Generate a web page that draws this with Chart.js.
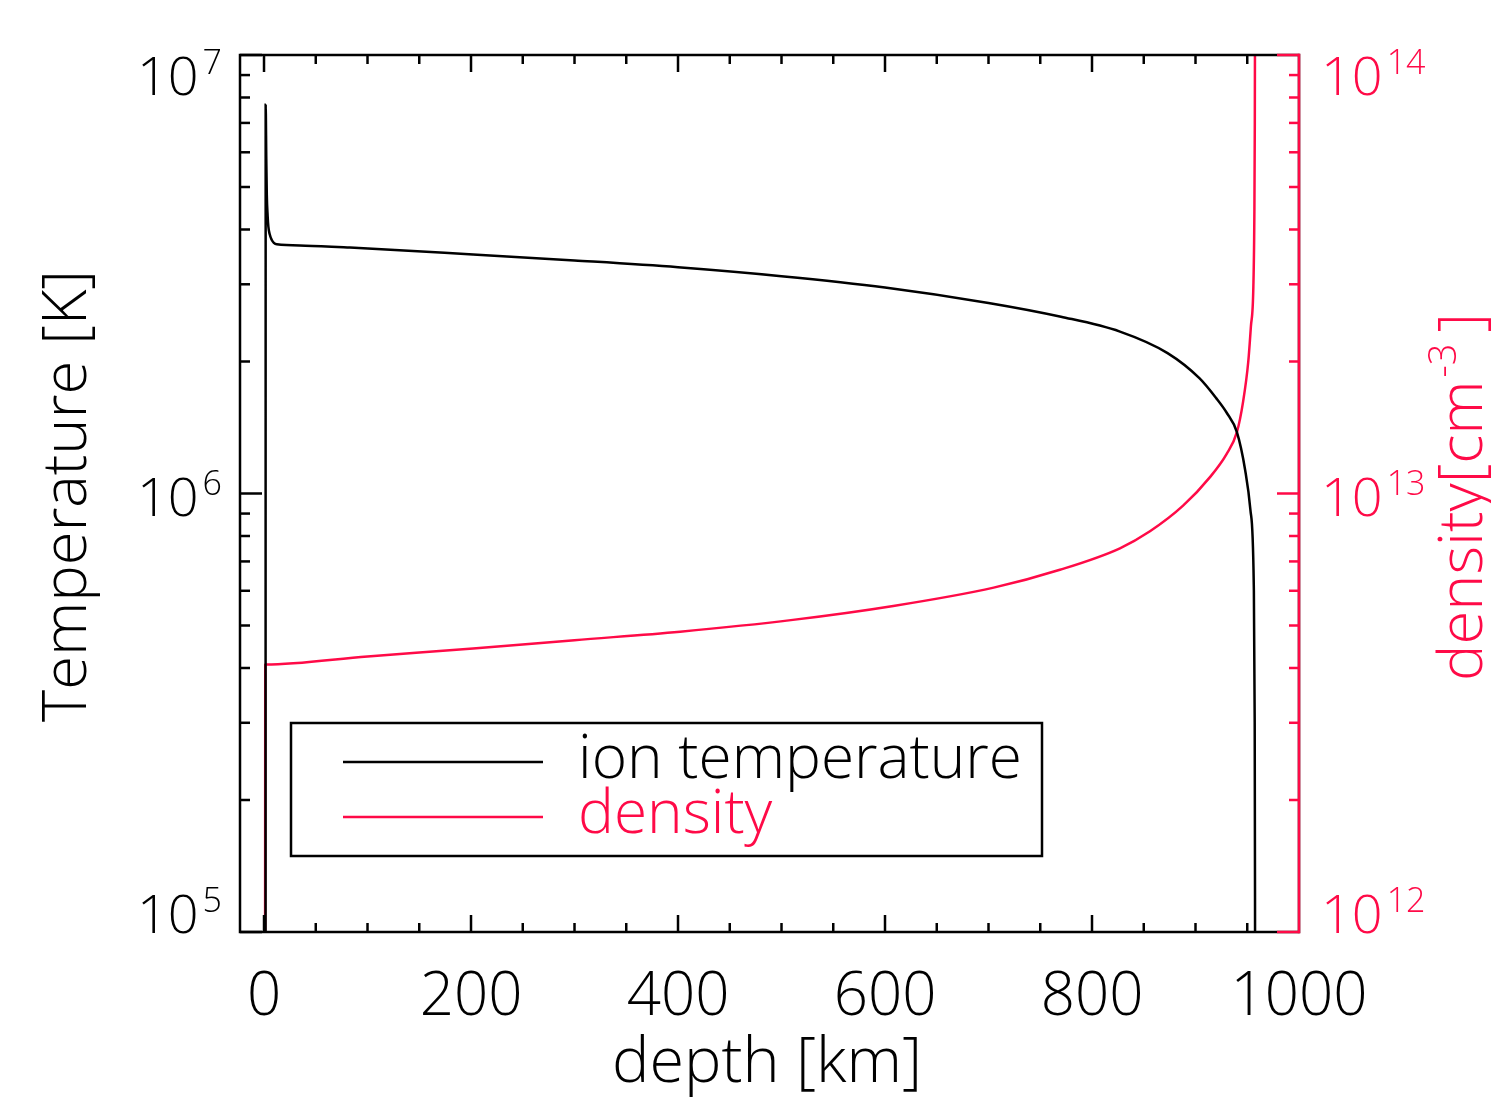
<!DOCTYPE html>
<html>
<head>
<meta charset="utf-8">
<script src="https://cdn.jsdelivr.net/npm/chart.js@4.4.1/dist/chart.umd.min.js"></script>
<style>
html,body{margin:0;padding:0;background:#fff;}
#wrap{width:1491px;height:1097px;}
</style>
</head>
<body>
<div id="wrap"><canvas id="profileChart" width="1491" height="1097"></canvas></div>
<script>
/* =========================
   DATA
========================= */

const tempDepth = [
1.5, 1.6, 2.2, 2.7, 3.5, 4.2, 5.5, 7.4, 9.5, 12.3,
40, 83, 202, 300, 400, 500, 600, 700, 770, 827,
873, 904, 920, 930, 940, 948, 953, 956.3, 957.2, 957.5,
957.7
];

const temperature = [
5e4, 7.7e6, 5.8e6, 4.8e6, 4.3e6, 4.06e6, 3.9e6, 3.79e6, 3.73e6, 3.70e6,
3.675e6, 3.64e6, 3.51e6, 3.40e6, 3.28e6, 3.13e6, 2.95e6, 2.72e6, 2.53e6, 2.34e6,
2.09e6, 1.83e6, 1.65e6, 1.53e6, 1.38e6, 1.13e6, 9.2e5, 6.2e5, 3.0e5, 1.2e5,
5e4
];

const densDepth = [
1.0, 1.2, 1.3, 100, 202, 300, 402, 511, 608, 705,
769, 827, 856, 888, 914, 930, 940, 946, 951, 953.5,
955.9, 956.9, 957.3, 957.6
];

const density = [
5e11, 4.07e12, 4.072e12, 4.25e12, 4.43e12, 4.63e12, 4.84e12, 5.15e12, 5.54e12, 6.1e12,
6.7e12, 7.5e12, 8.2e12, 9.38e12, 1.09e13, 1.23e13, 1.38e13, 1.62e13, 2.0e13, 2.4e13,
2.96e13, 4.4e13, 7.0e13, 1.6e14
];

const depthTicks = [0, 200, 400, 600, 800, 1000];
const tempExponents = [5, 6, 7];
const densExponents = [12, 13, 14];

const seriesNames = ["ion temperature", "density"];

/* =========================
   STYLE
========================= */

const RED = "#ff0a47";
const FONT = '"Open Sans", "DejaVu Sans", sans-serif';

function fitSize(ctx, text, width){
ctx.font = "300 100px " + FONT;
return 100 * width / ctx.measureText(text).width;
}

function line(ctx, x1, y1, x2, y2){
ctx.beginPath();
ctx.moveTo(x1, y1);
ctx.lineTo(x2, y2);
ctx.stroke();
}

// "10" with a raised exponent, baseline y
function power(ctx, exp, x, y, align){
ctx.textAlign = "left";
ctx.textBaseline = "alphabetic";
ctx.font = "300 54px " + FONT;
const bw = ctx.measureText("10").width;
ctx.font = "300 34px " + FONT;
const ew = ctx.measureText(String(exp)).width;
const x0 = align === "right" ? x - bw - 4 - ew : x;
ctx.font = "300 54px " + FONT;
ctx.fillText("10", x0, y);
ctx.font = "300 34px " + FONT;
ctx.fillText(String(exp), x0 + bw + 4, y - 21);
}

/* =========================
   AXES, FRAME, LEGEND
========================= */

const idlAxes = {
id: "idlAxes",
afterDraw(chart){
const ctx = chart.ctx;
const ca = chart.chartArea;
const xs = chart.scales.x;
const ys = chart.scales.y;
const y2 = chart.scales.y2;

ctx.save();
ctx.lineWidth = 2.5;
ctx.lineCap = "butt";

// frame
ctx.strokeStyle = "#000";
ctx.strokeRect(ca.left, ca.top, ca.right - ca.left, ca.bottom - ca.top);

// x ticks, bottom and top
for(let v = 0; v < 1000; v += 50){
const px = xs.getPixelForValue(v);
const len = v % 200 === 0 ? 17 : 9;
line(ctx, px, ca.bottom, px, ca.bottom - len);
line(ctx, px, ca.top, px, ca.top + len);
}

// left log ticks
for(let d = tempExponents[0]; d <= tempExponents[tempExponents.length-1]; d++){
for(let m = 1; m <= 9; m++){
const v = m * Math.pow(10, d);
if(v > ys.max) break;
const py = ys.getPixelForValue(v);
line(ctx, ca.left, py, ca.left + (m === 1 ? 22 : 10), py);
}
}

// right axis in red
ctx.strokeStyle = RED;
line(ctx, ca.right, ca.top - 1.25, ca.right, ca.bottom + 1.25);
for(let d = densExponents[0]; d <= densExponents[densExponents.length-1]; d++){
for(let m = 1; m <= 9; m++){
const v = m * Math.pow(10, d);
if(v > y2.max) break;
const py = y2.getPixelForValue(v);
line(ctx, ca.right, py, ca.right - (m === 1 ? 22 : 10), py);
}
}

// tick labels
const base = py => Math.min(Math.max(py + 22, 95), 933);

ctx.fillStyle = "#000";
tempExponents.forEach(e => {
power(ctx, e, 222, base(ys.getPixelForValue(Math.pow(10, e))), "right");
});

ctx.fillStyle = RED;
densExponents.forEach(e => {
power(ctx, e, 1321, base(y2.getPixelForValue(Math.pow(10, e))), "left");
});

ctx.fillStyle = "#000";
ctx.textAlign = "center";
ctx.textBaseline = "alphabetic";
ctx.font = "300 60px " + FONT;
depthTicks.forEach(v => {
ctx.fillText(String(v), xs.getPixelForValue(v), 1015);
});

// axis titles
ctx.font = "300 " + fitSize(ctx, "depth [km]", 310) + "px " + FONT;
ctx.textAlign = "center";
ctx.fillText("depth [km]", 767, 1082);

ctx.save();
ctx.translate(86, 496);
ctx.rotate(-Math.PI / 2);
ctx.font = "300 " + fitSize(ctx, "Temperature [K]", 452) + "px " + FONT;
ctx.fillText("Temperature [K]", 0, 0);
ctx.restore();

ctx.save();
ctx.translate(1482, 497);
ctx.rotate(-Math.PI / 2);
ctx.fillStyle = RED;
ctx.textAlign = "left";
const tSize = fitSize(ctx, "density[cm   ]", 368);
ctx.font = "300 " + tSize + "px " + FONT;
const w1 = ctx.measureText("density[cm").width;
const wAll = ctx.measureText("density[cm   ]").width;
const x0 = -wAll / 2;
ctx.fillText("density[cm", x0, 0);
ctx.fillText("]", x0 + wAll - ctx.measureText("]").width, 0);
ctx.font = "300 " + (tSize * 0.62) + "px " + FONT;
ctx.fillText("-3", x0 + w1 + 3, -tSize * 0.42);
ctx.restore();

// legend
ctx.lineWidth = 2.5;
ctx.strokeStyle = "#000";
ctx.strokeRect(291, 723, 751, 133);

const legendColors = ["#000", RED];
const legendY = [762, 817];
const lSize = fitSize(ctx, seriesNames[0], 444);
seriesNames.forEach((name, i) => {
ctx.strokeStyle = legendColors[i];
line(ctx, 343, legendY[i], 543, legendY[i]);
ctx.fillStyle = legendColors[i];
ctx.textAlign = "left";
ctx.font = "300 " + lSize + "px " + FONT;
ctx.fillText(name, 578, legendY[i] + 16);
});

ctx.restore();
}
};

/* =========================
   CHART
========================= */

const ctx = document.getElementById("profileChart").getContext("2d");

new Chart(ctx, {
type: "scatter",
data: {
datasets: [
{
label: seriesNames[0],
data: tempDepth.map((d, i) => ({x: d, y: temperature[i]})),
yAxisID: "y",
showLine: true,
borderColor: "#000",
borderWidth: 2.5,
pointRadius: 0,
cubicInterpolationMode: "monotone"
},
{
label: seriesNames[1],
data: densDepth.map((d, i) => ({x: d, y: density[i]})),
yAxisID: "y2",
showLine: true,
borderColor: RED,
borderWidth: 2.5,
pointRadius: 0,
cubicInterpolationMode: "monotone"
}
]
},
options: {
responsive: false,
animation: false,
layout: {padding: {left: 240, right: 192, top: 55, bottom: 165}},
plugins: {legend: {display: false}, tooltip: {enabled: false}},
scales: {
x: {type: "linear", min: -23.2, max: 1000, display: false},
y: {type: "logarithmic", min: 1e5, max: 1e7, display: false},
y2: {type: "logarithmic", min: 1e12, max: 1e14, display: false, position: "right"}
}
},
plugins: [idlAxes]
});
</script>
</body>
</html>
